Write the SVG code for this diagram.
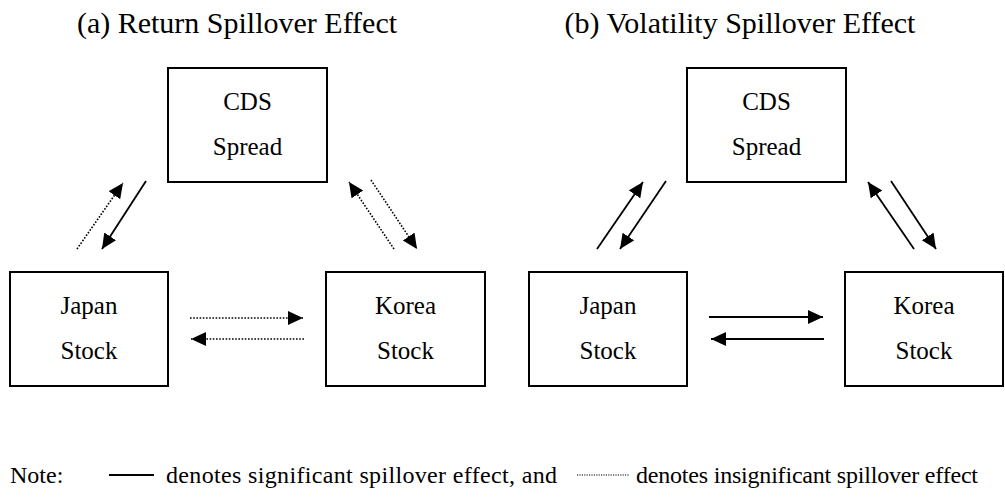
<svg xmlns="http://www.w3.org/2000/svg" width="1005" height="502" viewBox="0 0 1005 502">
<style>
  .title { font-size: 30px; text-anchor: middle; }
  .lbl { font-size: 25px; text-anchor: middle; }
  .note { font-size: 24px; }
  .box { fill: #fff; stroke: #000; stroke-width: 2; }
  .sol { stroke: #000; stroke-width: 1.8; fill: none; }
  .dot { stroke: #000; stroke-width: 1.6; fill: none; stroke-dasharray: 1.6 1.6; }
</style>
<defs>
  <marker id="ah" markerUnits="userSpaceOnUse" markerWidth="16" markerHeight="15" refX="15" refY="7" orient="auto">
    <path d="M0,0 L15,7 L0,14 z" fill="#000"/>
  </marker>
</defs>
<rect width="1005" height="502" fill="#fff"/>
<g font-family="'Liberation Serif', 'Times New Roman', 'DejaVu Serif', serif" fill="#000">
<text class="title" x="237" y="33">(a) Return Spillover Effect</text>
<text class="title" x="740" y="33">(b) Volatility Spillover Effect</text>

<g id="a-cds"><rect class="box" x="168" y="68" width="159" height="114"/><text class="lbl" x="247.5" y="110">CDS</text><text class="lbl" x="247.5" y="155">Spread</text></g>
<g id="a-japan"><rect class="box" x="10" y="272" width="158" height="114"/><text class="lbl" x="89" y="314">Japan</text><text class="lbl" x="89" y="359">Stock</text></g>
<g id="a-korea"><rect class="box" x="326" y="272" width="159" height="114"/><text class="lbl" x="405.5" y="314">Korea</text><text class="lbl" x="405.5" y="359">Stock</text></g>

<g id="b-cds"><rect class="box" x="687" y="68" width="159" height="114"/><text class="lbl" x="766.5" y="110">CDS</text><text class="lbl" x="766.5" y="155">Spread</text></g>
<g id="b-japan"><rect class="box" x="529" y="272" width="158" height="114"/><text class="lbl" x="608" y="314">Japan</text><text class="lbl" x="608" y="359">Stock</text></g>
<g id="b-korea"><rect class="box" x="845" y="272" width="158" height="114"/><text class="lbl" x="924" y="314">Korea</text><text class="lbl" x="924" y="359">Stock</text></g>

<g id="connectors">
  <line class="dot" x1="77" y1="249" x2="123" y2="183" marker-end="url(#ah)"/>
  <line class="sol" x1="146" y1="181" x2="102" y2="249" marker-end="url(#ah)"/>
  <line class="dot" x1="394" y1="249" x2="349" y2="182" marker-end="url(#ah)"/>
  <line class="dot" x1="371" y1="180" x2="417" y2="249" marker-end="url(#ah)"/>
  <line class="dot" x1="190" y1="318" x2="303" y2="318" marker-end="url(#ah)"/>
  <line class="dot" x1="304" y1="339" x2="191" y2="339" marker-end="url(#ah)"/>
  <line class="sol" x1="597" y1="249" x2="643" y2="182" marker-end="url(#ah)"/>
  <line class="sol" x1="666" y1="181" x2="620" y2="249" marker-end="url(#ah)"/>
  <line class="sol" x1="914" y1="249" x2="868" y2="182" marker-end="url(#ah)"/>
  <line class="sol" x1="891" y1="181" x2="936" y2="249" marker-end="url(#ah)"/>
  <line class="sol" x1="709" y1="317" x2="823" y2="317" marker-end="url(#ah)"/>
  <line class="sol" x1="824" y1="339" x2="711" y2="339" marker-end="url(#ah)"/>
</g>

<g id="note">
  <text class="note" x="10" y="483">Note:</text>
  <line class="sol" x1="109" y1="475" x2="154" y2="475"/>
  <text class="note" x="166" y="483" textLength="391" lengthAdjust="spacing">denotes significant spillover effect, and</text>
  <line class="dot" x1="577" y1="475" x2="629" y2="475" style="stroke-width:1.2;stroke-dasharray:1.2 1.2"/>
  <text class="note" x="636" y="483" textLength="342" lengthAdjust="spacing">denotes insignificant spillover effect</text>
</g>
</g>
</svg>
